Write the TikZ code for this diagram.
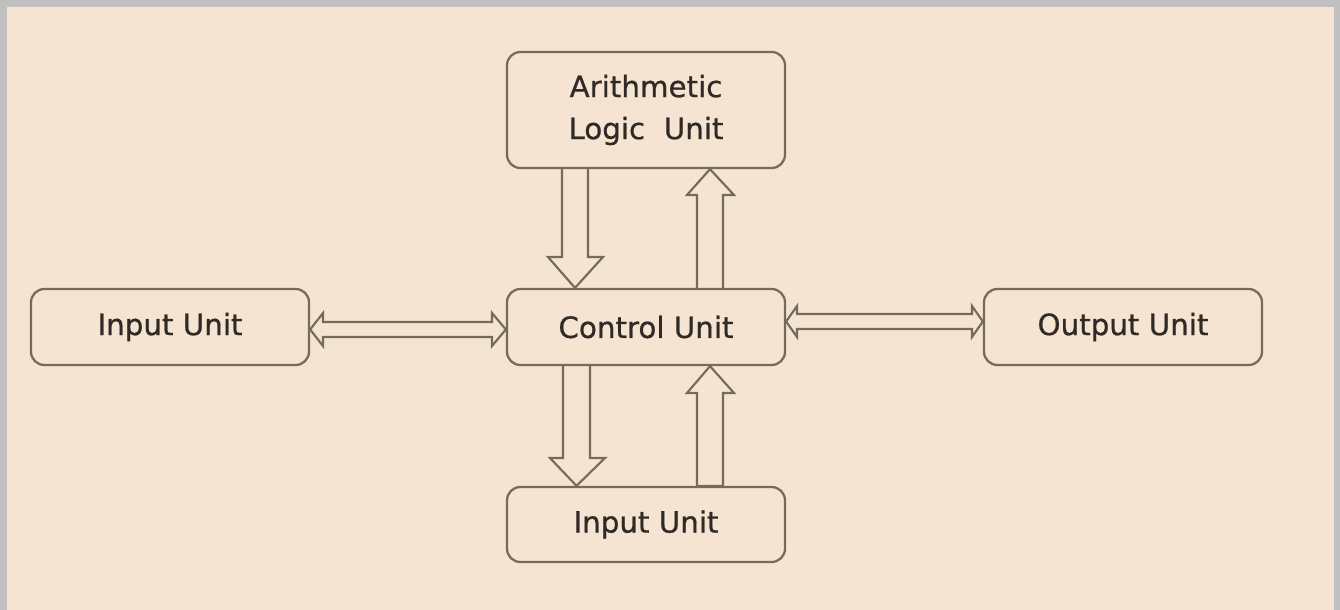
\documentclass[tikz,border=0pt]{standalone}
\usepackage{fontspec}
\setmainfont[FakeBold=0.7]{DejaVu Sans}
\definecolor{bg}{HTML}{F5E4D1}
\definecolor{frame}{HTML}{C0C0C0}
\definecolor{linec}{HTML}{756B5D}
\definecolor{txtc}{HTML}{2F2A25}
\begin{document}
\begin{tikzpicture}[x=0.75pt,y=-0.75pt,
  box/.style={draw=linec, line width=1.7pt, rounded corners=10pt, fill=bg,
    minimum width=208.5pt, minimum height=57pt, inner sep=0pt,
    font=\fontsize{22}{31.5}\selectfont, text=txtc, align=center},
  blk/.style={draw=linec, line width=1.6pt, line join=miter}]
\useasboundingbox (0,0) rectangle (1340,610);
\fill[frame] (0,0) rectangle (1340,610);
\fill[bg] (7,7) rectangle (1334,610);

\node[box, minimum height=87pt] (alu) at (646,110) {Arithmetic\\Logic\ \ Unit};
\node[box] (in) at (170,327) {Input Unit};
\node[box] (cu) at (646,327) {Control Unit};
\node[box] (out) at (1123,327) {Output Unit};
\node[box, minimum height=56.25pt] (in2) at (646,524.5) {Input Unit};

% ALU -> CU
\draw[blk] (562,0 |- alu.south) -- (562,257) -- (548,257) -- (575,0 |- cu.north)
  -- (603,257) -- (588,257) -- (588,0 |- alu.south);
% CU -> ALU
\draw[blk] (697,0 |- cu.north) -- (697,195) -- (687,195) -- (710,0 |- alu.south)
  -- (734,195) -- (723,195) -- (723,0 |- cu.north);
% CU -> bottom
\draw[blk] (563,0 |- cu.south) -- (563,458) -- (550,458) -- (576.5,0 |- in2.north)
  -- (605,458) -- (590,458) -- (590,0 |- cu.south);
% bottom -> CU
\draw[blk] (697,0 |- in2.north) -- (697,393) -- (687,393) -- (710,0 |- cu.south)
  -- (734,393) -- (723,393) -- (723,0 |- in2.north) -- cycle;
% Input <-> CU
\draw[blk] (in.east |- 0,329.5) -- (323,313) -- (323,322) -- (492,322) -- (492,313)
  -- (cu.west |- 0,329.5) -- (492,346) -- (492,337) -- (323,337) -- (323,346) -- cycle;
% CU <-> Output
\draw[blk] (cu.east |- 0,321.5) -- (797,306) -- (797,314) -- (972,314) -- (972,306)
  -- (out.west |- 0,321.5) -- (972,337) -- (972,329) -- (797,329) -- (797,337) -- cycle;
\end{tikzpicture}
\end{document}
